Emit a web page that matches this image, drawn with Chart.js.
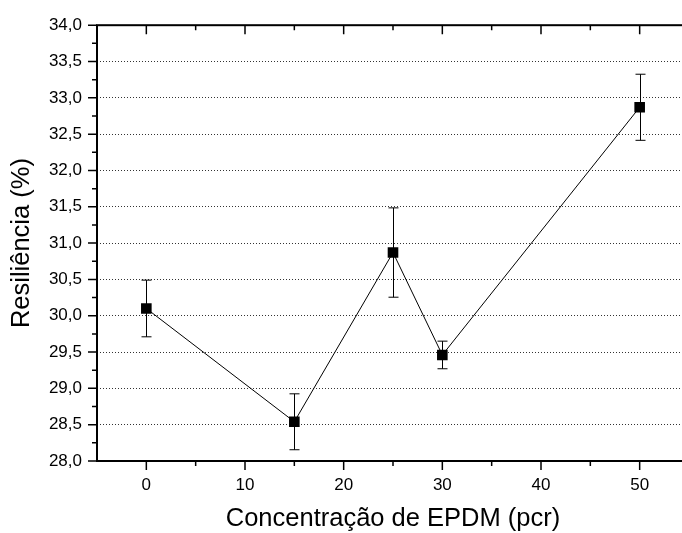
<!DOCTYPE html>
<html>
<head>
<meta charset="utf-8">
<script src="https://cdn.jsdelivr.net/npm/chart.js@4/dist/chart.umd.min.js"></script>
<style>
  html, body { margin: 0; padding: 0; background: #fff; overflow: hidden; }
  #wrap { width: 700px; height: 533px; position: relative; }
</style>
</head>
<body>
<div id="wrap"><canvas id="chart"></canvas></div>
<script>
// ── DATA ──
const concentrations = [0, 15, 25, 30, 50];
const resilience     = [30.10, 28.54, 30.87, 29.46, 32.87];
const errors         = [0.39, 0.385, 0.615, 0.19, 0.455];

const xTicks = [0, 10, 20, 30, 40, 50];
const yTicks = [28.0, 28.5, 29.0, 29.5, 30.0, 30.5, 31.0, 31.5, 32.0, 32.5, 33.0, 33.5, 34.0];

const FONT = 'Liberation Sans, Arial, sans-serif';

// frame, ticks (major + minor) and error bars
const framePlugin = {
  id: 'frame',
  beforeDatasetsDraw(chart) {
    const { ctx, chartArea: a, scales: { x, y } } = chart;
    ctx.save();

    // error bars
    ctx.strokeStyle = '#000';
    ctx.lineWidth = 1;
    concentrations.forEach((c, i) => {
      const px = Math.round(x.getPixelForValue(c)) + 0.5;
      const top = y.getPixelForValue(resilience[i] + errors[i]);
      const bot = y.getPixelForValue(resilience[i] - errors[i]);
      ctx.beginPath();
      ctx.moveTo(px, top); ctx.lineTo(px, bot);
      ctx.moveTo(px - 5, top); ctx.lineTo(px + 5, top);
      ctx.moveTo(px - 5, bot); ctx.lineTo(px + 5, bot);
      ctx.stroke();
    });

    // ticks
    ctx.lineWidth = 1.5;
    ctx.beginPath();
    for (let v = y.min; v <= y.max + 1e-9; v += 0.25) {
      const py = y.getPixelForValue(v);
      const major = Math.abs(v * 2 - Math.round(v * 2)) < 1e-6;
      ctx.moveTo(a.left, py); ctx.lineTo(a.left - (major ? 9 : 5), py);
    }
    for (let v = 0; v <= x.max + 1e-9; v += 5) {
      const px = x.getPixelForValue(v);
      const major = v % 10 === 0;
      const len = major ? 9 : 5;
      ctx.moveTo(px, a.bottom); ctx.lineTo(px, a.bottom + len);
      ctx.moveTo(px, a.top); ctx.lineTo(px, a.top + len);
    }
    ctx.stroke();

    // axis frame
    ctx.lineWidth = 2;
    ctx.strokeRect(a.left, a.top, a.right - a.left, a.bottom - a.top);
    ctx.restore();
  }
};

new Chart(document.getElementById('chart'), {
  type: 'line',
  data: {
    datasets: [{
      data: concentrations.map((c, i) => ({ x: c, y: resilience[i] })),
      borderColor: '#000',
      borderWidth: 1,
      pointStyle: 'rect',
      pointRadius: 7.5,
      pointBackgroundColor: '#000',
      pointBorderWidth: 0,
      tension: 0,
      fill: false,
    }]
  },
  options: {
    responsive: true, maintainAspectRatio: false, animation: false,
    layout: { padding: { top: 24, right: 11, left: 0, bottom: 0 } },
    plugins: { legend: { display: false }, tooltip: { enabled: false } },
    scales: {
      x: {
        type: 'linear', min: -5, max: 55,
        afterBuildTicks: s => { s.ticks = xTicks.map(v => ({ value: v })); },
        afterFit: s => { s.height = 72; },
        grid: { display: false },
        border: { display: false },
        ticks: { color: '#000', padding: 6, font: { family: FONT, size: 17 } },
        title: { display: true, text: 'Concentração de EPDM (pcr)', color: '#000',
                 padding: { top: 0, bottom: 0 }, font: { family: FONT, size: 25.5, lineHeight: 1.1 } }
      },
      y: {
        type: 'linear', min: 28, max: 34,
        afterBuildTicks: s => { s.ticks = yTicks.map(v => ({ value: v })); },
        afterFit: s => { s.width = 97; },
        grid: { color: '#333', lineWidth: 1, drawTicks: false },
        border: { display: false, dash: [1, 2] },
        ticks: { color: '#000', padding: 15, font: { family: FONT, size: 17 },
                 callback: v => v.toFixed(1).replace('.', ',') },
        title: { display: true, text: 'Resiliência (%)', color: '#000',
                 padding: { top: 8, bottom: 0 }, font: { family: FONT, size: 25.5, lineHeight: 1.1 } }
      }
    }
  },
  plugins: [framePlugin]
});
</script>
</body>
</html>
